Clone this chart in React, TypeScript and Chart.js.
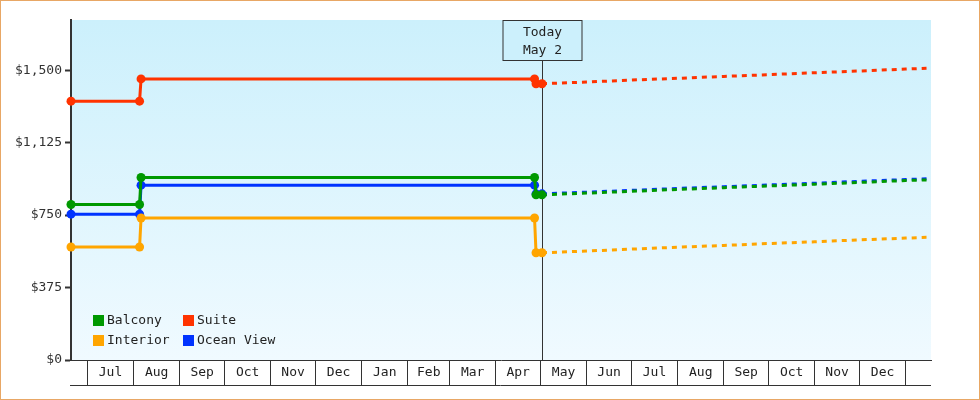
import React, { useEffect, useRef } from 'react';
import { Chart, registerables, ChartConfiguration, Plugin } from 'chart.js';

Chart.register(...registerables);

const FONT = '"DejaVu Sans Mono", monospace';

// x axis: month cells
const monthStarts = [
  '2022-07-01', '2022-08-01', '2022-09-01', '2022-10-01', '2022-11-01', '2022-12-01',
  '2023-01-01', '2023-02-01', '2023-03-01', '2023-04-01', '2023-05-01', '2023-06-01',
  '2023-07-01', '2023-08-01', '2023-09-01', '2023-10-01', '2023-11-01', '2023-12-01',
  '2024-01-01',
];
const monthLabels = [
  'Jul', 'Aug', 'Sep', 'Oct', 'Nov', 'Dec', 'Jan', 'Feb', 'Mar',
  'Apr', 'May', 'Jun', 'Jul', 'Aug', 'Sep', 'Oct', 'Nov', 'Dec',
];
const xStart = '2022-06-20';
const xEnd = '2024-01-18';
const today = '2023-05-02';
const todayText = ['Today', 'May 2'];

// y axis
const yTicks = [0, 375, 750, 1125, 1500];
const yMax = 1760;

// series
const seriesNames = ['Balcony', 'Suite', 'Interior', 'Ocean View'];
const seriesColors = ['#009900', '#ff3300', '#ffa500', '#0033ff'];

const historyDates = ['2022-06-20', '2022-08-05', '2022-08-06', '2023-04-27', '2023-04-28', '2023-05-02'];
const balconyHistory = [805, 805, 945, 945, 855, 855];
const suiteHistory = [1340, 1340, 1455, 1455, 1430, 1430];
const interiorHistory = [585, 585, 735, 735, 555, 555];
const oceanHistory = [755, 755, 905, 905, 860, 860];

const forecastDates = [
  '2023-05-02', '2023-06-01', '2023-07-01', '2023-08-01', '2023-09-01',
  '2023-10-01', '2023-11-01', '2023-12-01', '2024-01-01', '2024-01-15',
];
const balconyForecast = [855, 864, 873, 883, 892, 901, 910, 919, 929, 932];
const suiteForecast = [1430, 1439, 1449, 1458, 1468, 1477, 1487, 1496, 1506, 1510];
const interiorForecast = [555, 564, 574, 584, 593, 603, 612, 622, 631, 635];
const oceanForecast = [860, 869, 878, 888, 897, 906, 915, 925, 934, 938];

const histories = [balconyHistory, suiteHistory, interiorHistory, oceanHistory];
const forecasts = [balconyForecast, suiteForecast, interiorForecast, oceanForecast];

const day = (s: string) => Date.parse(s) / 86400000;

const boundaries = monthStarts.map(day);
const mids = monthLabels.map((_, i) => (boundaries[i] + boundaries[i + 1]) / 2);
const midLabel = new Map<number, string>(mids.map((m, i) => [m, monthLabels[i]]));
const boundarySet = new Set(boundaries);

const backgroundPlugin: Plugin = {
  id: 'plotBackground',
  beforeDraw(chart) {
    const { ctx, chartArea: a } = chart;
    const g = ctx.createLinearGradient(0, a.top, 0, a.bottom);
    g.addColorStop(0, '#ccf0fc');
    g.addColorStop(1, '#f0faff');
    ctx.save();
    ctx.fillStyle = g;
    ctx.fillRect(a.left, a.top, a.right - a.left, a.bottom - a.top);
    ctx.restore();
  },
};

const todayPlugin: Plugin = {
  id: 'todayMarker',
  beforeDatasetsDraw(chart) {
    const { ctx, chartArea: a } = chart;
    const x = Math.round(chart.scales.x.getPixelForValue(day(today))) + 0.5;
    ctx.save();
    ctx.strokeStyle = '#333';
    ctx.lineWidth = 1;
    ctx.beginPath();
    ctx.moveTo(x, a.top + 40);
    ctx.lineTo(x, a.bottom);
    ctx.stroke();
    ctx.fillStyle = '#ccf0fc';
    ctx.fillRect(x - 39.5, a.top + 0.5, 79, 40);
    ctx.strokeRect(x - 39.5, a.top + 0.5, 79, 40);
    ctx.fillStyle = '#222';
    ctx.font = `13px ${FONT}`;
    ctx.textAlign = 'center';
    ctx.textBaseline = 'middle';
    ctx.fillText(todayText[0], x, a.top + 13);
    ctx.fillText(todayText[1], x, a.top + 31);
    ctx.restore();
  },
};

const legendPlugin: Plugin = {
  id: 'insideLegend',
  afterDatasetsDraw(chart) {
    const { ctx, chartArea: a } = chart;
    ctx.save();
    ctx.font = `13px ${FONT}`;
    ctx.textAlign = 'left';
    ctx.textBaseline = 'middle';
    seriesNames.forEach((name, i) => {
      const x = a.left + 22 + (i % 2) * 90;
      const y = a.bottom - 40 + Math.floor(i / 2) * 20;
      ctx.fillStyle = seriesColors[i];
      ctx.fillRect(x, y - 5, 11, 11);
      ctx.fillStyle = '#222';
      ctx.fillText(name, x + 14, y + 1);
    });
    ctx.restore();
  },
};

const framePlugin: Plugin = {
  id: 'frame',
  afterDraw(chart) {
    const { ctx } = chart;
    const xs = chart.scales.x;
    ctx.save();
    ctx.strokeStyle = '#333';
    ctx.lineWidth = 1;
    ctx.beginPath();
    ctx.moveTo(xs.left - 1, xs.top + 25.5);
    ctx.lineTo(xs.right, xs.top + 25.5);
    ctx.stroke();
    ctx.strokeStyle = '#e8a765';
    ctx.strokeRect(0.5, 0.5, chart.width - 1, chart.height - 1);
    ctx.restore();
  },
};

export default function App() {
  const chartRef = useRef<HTMLCanvasElement | null>(null);

  useEffect(() => {
    const datasets: any[] = [];
    seriesNames.forEach((name, i) => {
      datasets.push({
        label: name,
        data: historyDates.map((d, j) => ({ x: day(d), y: histories[i][j] })),
        borderColor: seriesColors[i],
        backgroundColor: seriesColors[i],
        borderWidth: 3,
        pointRadius: 4.5,
        pointBorderWidth: 0,
        pointBackgroundColor: seriesColors[i],
        tension: 0,
        clip: false,
      });
    });
    seriesNames.forEach((name, i) => {
      datasets.push({
        label: name + ' forecast',
        data: forecastDates.map((d, j) => ({ x: day(d), y: forecasts[i][j] })),
        borderColor: seriesColors[i],
        borderWidth: 3,
        borderDash: [5, 5],
        pointRadius: 0,
        tension: 0,
      });
    });

    const config: ChartConfiguration<'line'> = {
      type: 'line',
      data: { datasets },
      options: {
        responsive: false,
        animation: false,
        devicePixelRatio: 1,
        layout: { padding: { left: 0, top: 20, right: 49, bottom: 15 } },
        plugins: {
          legend: { display: false },
          tooltip: { enabled: false },
        },
        scales: {
          x: {
            type: 'linear',
            min: day(xStart),
            max: day(xEnd),
            afterBuildTicks: (scale) => {
              scale.ticks = [...boundaries, ...mids].sort((p, q) => p - q).map((v) => ({ value: v }));
            },
            afterFit: (scale) => {
              scale.height = 25;
            },
            border: { display: true, color: '#333', width: 1 },
            grid: {
              drawOnChartArea: false,
              drawTicks: true,
              tickLength: 25,
              lineWidth: 1,
              color: (ctx: any) => (boundarySet.has(ctx.tick?.value) ? '#333' : 'rgba(0,0,0,0)'),
            },
            ticks: {
              autoSkip: false,
              maxRotation: 0,
              minRotation: 0,
              padding: -20,
              color: '#222',
              font: { family: FONT, size: 13 },
              callback: (v: any) => midLabel.get(Number(v)) ?? '',
            },
          },
          y: {
            min: 0,
            max: yMax,
            afterBuildTicks: (scale) => {
              scale.ticks = yTicks.map((v) => ({ value: v }));
            },
            afterFit: (scale) => {
              scale.width = 71;
            },
            border: { display: true, color: '#333', width: 2 },
            grid: {
              drawOnChartArea: false,
              drawTicks: true,
              tickLength: 6,
              tickWidth: 2,
              color: '#333',
            },
            ticks: {
              padding: 3,
              color: '#333',
              font: { family: FONT, size: 13 },
              callback: (v: any) => '$' + Number(v).toLocaleString('en-US'),
            },
          },
        },
      },
      plugins: [backgroundPlugin, todayPlugin, legendPlugin, framePlugin],
    };

    if (chartRef.current) {
      const chartInstance = new Chart(chartRef.current, config);
      return () => chartInstance.destroy();
    }
  }, []);

  return (
    <div style={{ position: 'absolute', left: 0, top: 0, width: 980, height: 400, background: '#fff' }}>
      <canvas ref={chartRef} width={980} height={400} />
    </div>
  );
}
